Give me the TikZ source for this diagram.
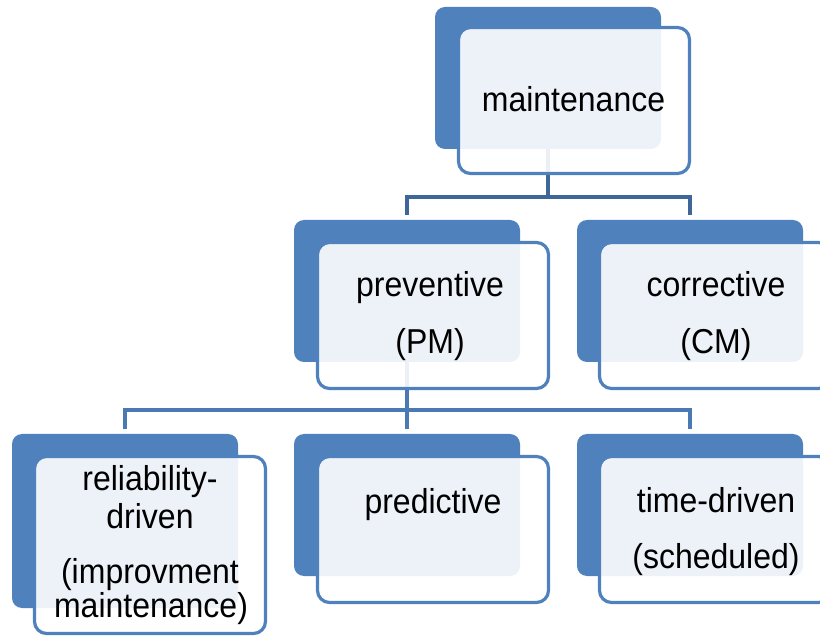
\documentclass[tikz,border=0pt]{standalone}
\usepackage{fontspec}
\setmainfont{Liberation Sans}
\definecolor{accent}{HTML}{4F81BD}
\definecolor{linkdark}{HTML}{3F6699}
\definecolor{linklow}{HTML}{4A79B4}
\newcommand{\tallt}[1]{\scalebox{1}[1.08]{#1}}
\begin{document}
\begin{tikzpicture}[x=1pt,y=-1pt,
  backbox/.style={fill=accent, draw=none, rounded corners=10pt,
    minimum width=226pt, minimum height=142pt, inner sep=0pt, outer sep=0pt,
    anchor=north west},
  frontbox/.style={draw=accent, line width=3.2pt, fill=white, fill opacity=0.9,
    draw opacity=1, rounded corners=12pt, minimum width=231pt,
    minimum height=146pt, inner sep=0pt, outer sep=0pt, anchor=north west},
  link/.style={draw=linkdark, line width=3.5pt, line join=miter},
  linklow/.style={draw=linklow, line width=3.5pt, line join=miter},
  lbl/.style={anchor=base, inner sep=0pt, text=black,
    font=\fontsize{32}{38}\selectfont}]
\useasboundingbox (0,0) rectangle (820,636);
\clip (0,0) rectangle (820,636);

% back plates
\node[backbox] (mB) at (435,7) {};
\node[backbox] (pB) at (294,220) {};
\node[backbox] (cB) at (577,220) {};
\node[backbox, minimum height=174pt] (rB) at (12,434) {};
\node[backbox] (dB) at (294,434) {};
\node[backbox] (tB) at (577,434) {};

% connectors
\path (mB.south) ++(0,48) coordinate (bus1);
\path (pB.south) ++(0,48) coordinate (bus2);
\draw[link] (mB.south) -- (bus1);
\draw[link] ([yshift=5pt]pB.north) |- (bus1) -| ([yshift=5pt]cB.north);
\draw[linklow] (pB.south) -- (bus2);
\draw[linklow] ([yshift=5pt]rB.north) |- (bus2) -| ([yshift=5pt]tB.north);
\draw[linklow] (bus2) -- ([yshift=5pt]dB.north);

% front cards
\node[frontbox] (mF) at (458.5,27.5) {};
\node[frontbox] (pF) at (317.5,242.5) {};
\node[frontbox] (cF) at (599.5,242.5) {};
\node[frontbox, minimum height=177pt] (rF) at (34.5,456.5) {};
\node[frontbox] (dF) at (317.5,456.5) {};
\node[frontbox] (tF) at (599.5,456.5) {};

% labels
\node[lbl] (m1) at (573.5,112) {\tallt{maintenance}};
\node[lbl] (p1) at (430,297) {\tallt{preventive}};
\node[lbl] (p2) at (430,354) {\tallt{(PM)}};
\node[lbl] (c1) at (716,297) {\tallt{corrective}};
\node[lbl] (c2) at (716,354) {\tallt{(CM)}};
\node[lbl] (r1) at (150,490) {\tallt{reliability-}};
\node[lbl] (r2) at (150,528) {\tallt{driven}};
\node[lbl] (r3) at (150,583) {\tallt{(improvment}};
\node[lbl] (r4) at (151,617) {\tallt{maintenance)}};
\node[lbl] (d1) at (433,513) {\tallt{predictive}};
\node[lbl] (t1) at (716,512) {\tallt{time-driven}};
\node[lbl] (t2) at (716,568) {\tallt{(scheduled)}};
\end{tikzpicture}
\end{document}
